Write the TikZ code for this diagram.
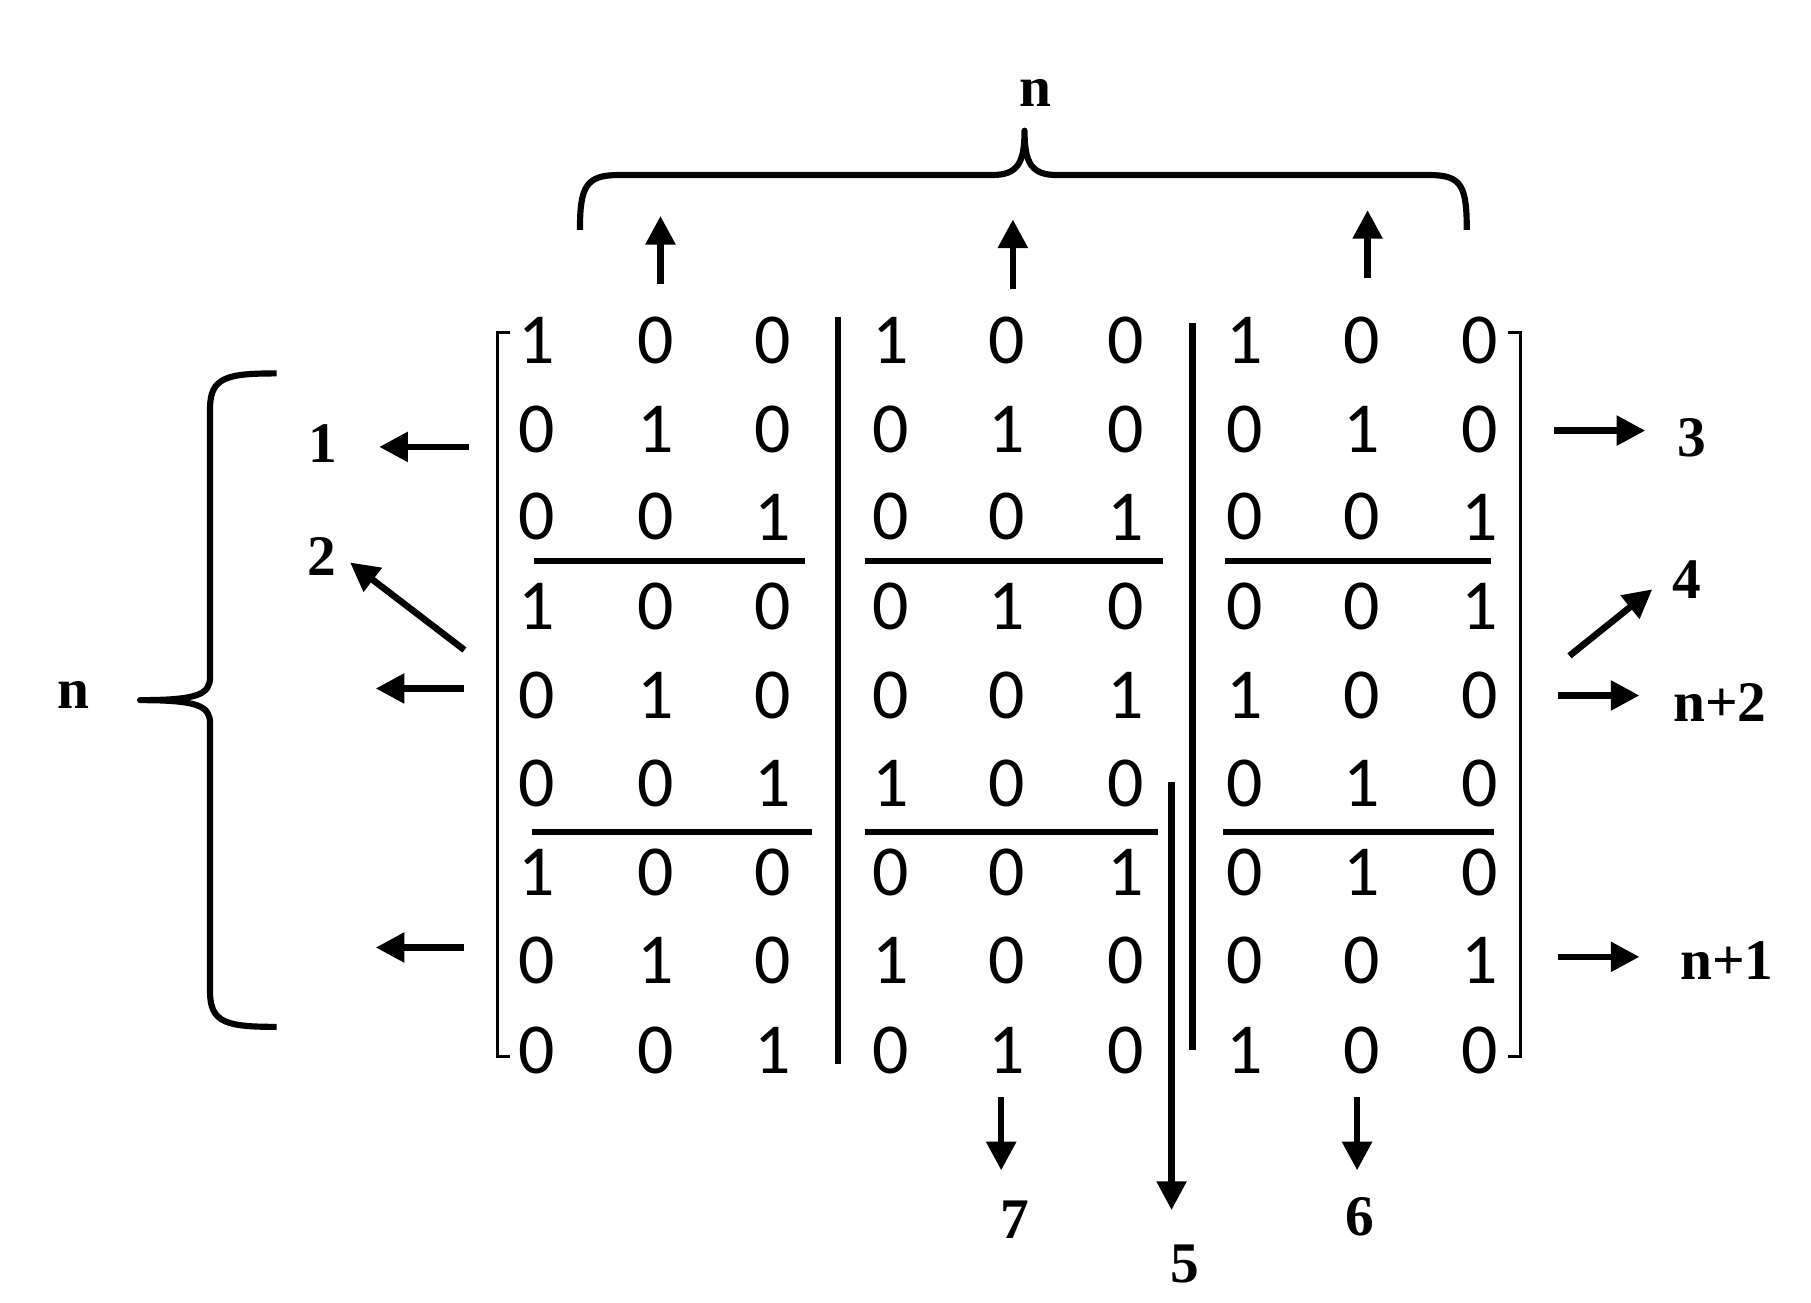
\documentclass[tikz,border=0pt]{standalone}
\usepackage{fontspec}
\setmainfont{Liberation Serif}
\newfontfamily\dig{Carlito}
\usetikzlibrary{arrows.meta}
\begin{document}
\begin{tikzpicture}[x=0.02cm,y=-0.02cm,
  d/.style={font=\dig\fontsize{35}{35}\selectfont,inner sep=0pt},
  lab/.style={font=\bfseries\fontsize{28}{28}\selectfont,inner sep=0pt},
  ln/.style={line width=3pt},
  ar/.style={line width=3.2pt,-{Triangle[length=14pt,width=14pt]}},
  br/.style={line width=3pt,line join=round}]
\useasboundingbox (0,0) rectangle (1552,1116);
\foreach \r [count=\i] in {{1,0,0,1,0,0,1,0,0},{0,1,0,0,1,0,0,1,0},{0,0,1,0,0,1,0,0,1},
 {1,0,0,0,1,0,0,0,1},{0,1,0,0,0,1,1,0,0},{0,0,1,1,0,0,0,1,0},
 {1,0,0,0,0,1,0,1,0},{0,1,0,1,0,0,0,0,1},{0,0,1,0,1,0,1,0,0}}{
  \foreach \v [count=\j] in \r {
    \pgfmathsetmacro\xx{{460,562,662,763,863,965,1067,1167,1268}[\j-1]}
    \pgfmathsetmacro\yy{{292,368,443,520,596,671,748,823,900}[\i-1]}
    \node[d] (m\i-\j) at (\xx,\yy) {\v};}}
% brackets
\draw[line width=1.5pt] (437,285) -- (426,285) -- (426,905) -- (437,905);
\draw[line width=1.5pt] (1292,285) -- (1303,285) -- (1303,905) -- (1292,905);
% separators
\draw[ln] (718,272) -- (718,912);
\draw[ln] (1022,277) -- (1022,900);
\foreach \y/\a/\b/\c/\d/\e/\f in {481/458/690/741/997/1050/1278, 713/456/696/741/992/1048/1280}{
  \draw[ln] (\a,\y) -- (\b,\y); \draw[ln] (\c,\y) -- (\d,\y); \draw[ln] (\e,\y) -- (\f,\y);}
% arrows
\draw[ar] (566,243) -- (566,185);
\draw[ar] (868,248) -- (868,188);
\draw[ar] (1172,238) -- (1172,180);
\draw[ar] (402,383) -- (325,383);
\draw[ar] (398,557) -- (300,482);
\draw[ar] (398,590) -- (322,590);
\draw[ar] (398,812) -- (322,812);
\draw[ar] (1332,369) -- (1410,369);
\draw[ar] (1345,562) -- (1416,505);
\draw[ar] (1335,596) -- (1405,596);
\draw[ar] (1335,820) -- (1405,820);
\draw[ar] (858,940) -- (858,1003);
\draw[ar] (1163,940) -- (1163,1003);
\draw[line width=3pt,-{Triangle[length=14pt,width=14pt]}] (1004,670) -- (1004,1037);
% labels
\node[lab] (l1) at (277,380) {1};
\node[lab] (l2) at (276,477) {2};
\node[lab] (l3) at (1450,375) {3};
\node[lab] (l4) at (1446,497) {4};
\node[lab] (l5) at (1015,1083) {5};
\node[lab] (l6) at (1165,1043) {6};
\node[lab] (l7) at (870,1045) {7};
\node[lab] (ln2) at (1474,602) {n+2};
\node[lab] (ln1) at (1480,823) {n+1};
\node[lab] (nt) at (887,80) {n};
\node[lab] (nl) at (63,596) {n};
% braces
\draw[br] (497,197) .. controls (497,160) and (502,150) .. (530,150) -- (850,150)
  .. controls (872,150) and (878,140) .. (878,112)
  .. controls (878,140) and (884,150) .. (906,150) -- (1225,150)
  .. controls (1253,150) and (1257,160) .. (1257,197);
\draw[br] (237,320) .. controls (195,320) and (180,323) .. (180,350) -- (180,580)
  .. controls (180,595) and (170,600) .. (120,600)
  .. controls (170,600) and (180,605) .. (180,620) -- (180,850)
  .. controls (180,877) and (195,880) .. (237,880);
\end{tikzpicture}
\end{document}
